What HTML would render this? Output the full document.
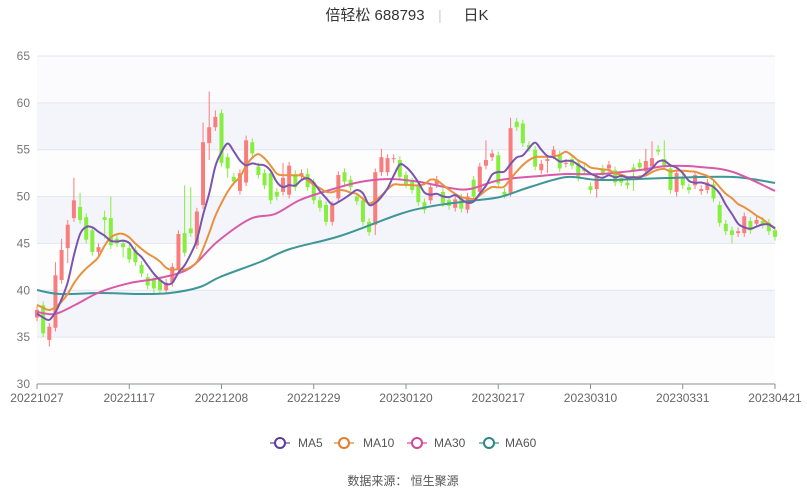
<!DOCTYPE html>
<html><head><meta charset="utf-8"><style>
body{margin:0;background:#fff;}
svg{display:block;font-family:"Liberation Sans","Noto Sans CJK SC",sans-serif;}
</style></head><body>
<svg id="c" width="807" height="491" xmlns="http://www.w3.org/2000/svg">
<text x="375" y="20" font-size="15" fill="#333" text-anchor="middle">倍轻松 688793</text>
<text x="440" y="20" font-size="14" fill="#ccc" text-anchor="middle">|</text>
<text x="476" y="20" font-size="15" fill="#333" text-anchor="middle">日K</text>
<text x="403" y="485" font-size="12" fill="#555" text-anchor="middle">数据来源：  恒生聚源</text>
</svg>
<script>
var s=document.getElementById('c'),NS='http://www.w3.org/2000/svg';
function el(t,a,txt){var e=document.createElementNS(NS,t);for(var k in a)e.setAttribute(k,a[k]);if(txt)e.textContent=txt;s.appendChild(e);return e;}
function Y(p){return 56+(65-p)*9.371;}
function X(i){return 37+i*6.15;}
// bands
var bands=[[65,60,'#fbfbfd'],[60,55,'#f4f5fa'],[55,50,'#fdfdfe'],[50,45,'#f4f5fa'],[45,40,'#fdfdfe'],[40,35,'#f4f5fa'],[35,30,'#fdfdfe']];
bands.forEach(function(b){el('rect',{x:37,y:Y(b[0]),width:738,height:Y(b[1])-Y(b[0]),fill:b[2]});});
for(var p=30;p<=65;p+=5){
 if(p>30)el('line',{x1:37,x2:775,y1:Y(p),y2:Y(p),stroke:'#e3e6ef','stroke-width':1});
 el('text',{x:30,y:Y(p)+4,'font-size':12,fill:'#777','text-anchor':'end'},String(p));
}
el('line',{x1:37,x2:775,y1:384,y2:384,stroke:'#8a8f99','stroke-width':1});
var labs=['20221027','20221117','20221208','20221229','20230120','20230217','20230310','20230331','20230421'];
labs.forEach(function(l,i){var x=37+i*92.25;el('line',{x1:x,x2:x,y1:384,y2:389,stroke:'#8a8f99'});
 el('text',{x:x,y:402,'font-size':12,fill:'#666','text-anchor':'middle'},l);});
var D=[[37.1,37.9],[38.4,35.4],[34.7,36.1,34.0],[36.0,41.6,0,43],[41.1,44.3,0,45.5],[44.5,47.0,42.9,47.5],[47.7,49.6,0,52.0],[48.9,47.5,0,50.4],[47.8,45.4],[46.4,44.1],
[44.1,44.6],[47.8,47.5,45.5,48.5],[47.7,44.8,0,50],[45.5,45.0],[45.0,44.6,43.5],[44.5,43.3],[44.3,43.0],[42.7,41.8],[41.4,40.5],[41.1,40.2,39.6],
[41.1,40.0],[40.0,40.8],[40.8,42.5],[42.2,46.0],[46.1,44.0,0,51.2],[46.6,46.1,0,51],[44.8,48.4],[49.1,55.8,0,57.9],[55.7,57.4,53.9,61.2],[57.4,58.5,0,59.2],
[58.9,53.6],[54.2,53.0,52],[52.1,51.6],[50.6,52.5],[51.5,56.0,0,56.5],[55.8,54.6],[53.2,52.3],[52.5,51.2],[52.5,49.6],[50.5,50.0],
[50.5,52.0,0,53.6],[50.2,53.3],[52.4,51.0],[52.2,52.5],[52.4,51.0,0,53],[51.5,49.6],[49.6,48.8],[49.1,47.3],[47.3,49.1],[49.8,52.3],
[52.6,51.6],[51.8,51.0],[50.0,49.5],[49.6,47.3],[47.3,46.2],[47.0,52.6,45.9],[52.6,54.2,0,55.1],[52.6,54.1],[54.0,54.1],[53.9,52.1],
[52.3,51.3],[51.6,50.7],[51.2,49.4],[49.4,48.6],[49.6,51.0],[51.3,51.8],[50.5,49.3],[49.6,49.0],[48.8,49.7],[49.9,48.7],
[48.6,50.0],[51.8,50.0],[50.5,53.2],[53.3,53.9,0,56],[54.2,54.6],[54.4,51.4],[50.5,50.2],[50.4,57.3,0,58.4],[58.0,57.4],[57.8,55.7],
[55.5,55.2],[55.0,53.2],[52.8,53.5],[53.8,54.0,52.5],[54.4,55.0],[54.5,53.0],[53.5,53.6],[54.0,53.3],[53.6,52.0],[53.0,52.7],
[51.1,50.7],[50.8,52.1,49.9],[53.0,52.5],[53.0,53.4],[52.8,51.5],[52.0,51.5],[51.5,51.2],[53.1,52.8,50.6],[53.6,53.1],[52.7,53.8,0,55.1],
[53.2,54.1,0,55.9],[55.0,54.8,0,55.5],[54.0,53.3,0,56],[53.0,50.7],[50.5,52.5,50.0],[52.0,51.2],[51.0,50.7],[51.2,52.3],[50.6,50.8],[50.7,51.5],
[51.3,49.8],[49.1,47.2],[47.1,46.3],[46.4,45.9,45],[46.1,46.3],[46.1,47.9],[47.4,46.4],[47.1,47.5],[47.4,47.0],[47.2,46.3],[46.4,45.7]];
D.forEach(function(d,i){var o=d[0],c=d[1],lo=d[2]||Math.min(o,c)-0.4,hi=d[3]||Math.max(o,c)+0.4;
 var col=c>=o?'#fa7d7d':'#86ef3e',x=X(i);
 el('line',{x1:x,x2:x,y1:Y(hi),y2:Y(lo),stroke:col,'stroke-width':1});
 var y1=Y(Math.max(o,c)),h=Math.max(1,Y(Math.min(o,c))-y1);
 el('rect',{x:x-2,y:y1,width:4,height:h,fill:col});});
function smooth(pts){var d='M'+pts[0][0]+','+pts[0][1];
 for(var i=0;i<pts.length-1;i++){var p0=pts[i-1]||pts[i],p1=pts[i],p2=pts[i+1],p3=pts[i+2]||p2;
 d+=' C'+(p1[0]+(p2[0]-p0[0])/6).toFixed(1)+','+(p1[1]+(p2[1]-p0[1])/6).toFixed(1)+' '+(p2[0]-(p3[0]-p1[0])/6).toFixed(1)+','+(p2[1]-(p3[1]-p1[1])/6).toFixed(1)+' '+p2[0].toFixed(1)+','+p2[1].toFixed(1);}
 return d;}
function ma(n,pad){var cl=D.map(function(d){return d[1];});var pts=[];
 for(var i=0;i<cl.length;i++){var sum=0;for(var k=i-n+1;k<=i;k++)sum+=k<0?pad:cl[k];pts.push([X(i),Y(sum/n)]);}return pts;}
var ma60=[[37,290],[60,294],[100,293],[140,294],[170,293],[200,287],[220,277],[260,262],[290,249],[340,236],[400,214],[433,206],[470,201],[500,197],[530,187],[567,177],[600,180],[667,178],[733,177],[775,183]];
var ma30=[[37,312],[55,314],[75,305],[100,292],[130,283],[160,278],[190,268],[217,242],[250,219],[275,214],[300,200],[330,190],[360,182],[390,179],[420,182],[450,188],[470,189],[500,180],[540,176],[567,174],[600,174],[640,170],[667,166],[700,167],[733,172],[775,191]];
el('path',{d:smooth(ma60),fill:'none',stroke:'#3f9696','stroke-width':2});
el('path',{d:smooth(ma30),fill:'none',stroke:'#d95aa9','stroke-width':2});
el('path',{d:smooth(ma(10,38.5)),fill:'none',stroke:'#e8913f','stroke-width':2});
el('path',{d:smooth(ma(5,37.4)),fill:'none',stroke:'#7b55ad','stroke-width':2});
var lg=[['MA5','#5b3a9a',280,298],['MA10','#e07b2a',344,363],['MA30','#d2449c',417,434],['MA60','#2c8585',489,505]];
var lc={'MA5':'#a58bcc','MA10':'#f0b27c','MA30':'#eb8ec5','MA60':'#7fbcbc'};
lg.forEach(function(l){el('line',{x1:l[2]-10,x2:l[2]+10,y1:443,y2:443,stroke:lc[l[0]],'stroke-width':2});
 el('circle',{cx:l[2],cy:443,r:5,fill:'#fff',stroke:l[1],'stroke-width':2});
 el('text',{x:l[3],y:447,'font-size':12,fill:'#555'},l[0]);});
</script>
</body></html>
